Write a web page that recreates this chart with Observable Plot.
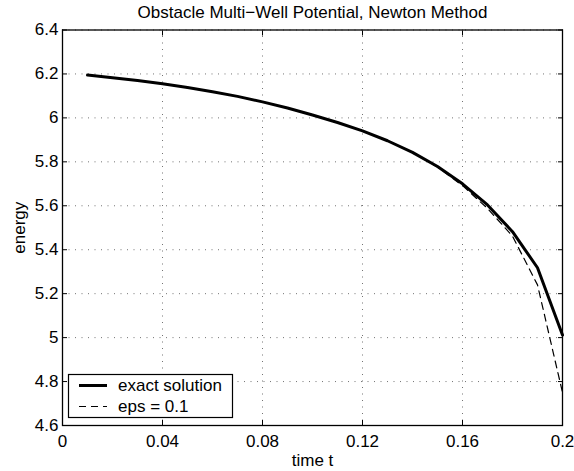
<!DOCTYPE html>
<html>
<head>
<meta charset="utf-8">
<script src="https://cdn.jsdelivr.net/npm/d3@7"></script>
<script src="https://cdn.jsdelivr.net/npm/@observablehq/plot@0.6"></script>
<style>
  html, body { margin: 0; padding: 0; background: #fff; }
</style>
</head>
<body>
<div id="chart"></div>
<script>
const times = [0.01,0.02,0.03,0.04,0.05,0.06,0.07,0.08,0.09,0.10,0.11,0.12,0.13,0.14,0.15,0.16,0.17,0.18,0.19,0.20];
const exactEnergy = [6.195,6.183,6.170,6.155,6.138,6.119,6.098,6.073,6.045,6.013,5.979,5.941,5.896,5.843,5.779,5.700,5.604,5.482,5.318,5.012];
const epsEnergy   = [6.195,6.183,6.170,6.155,6.138,6.119,6.098,6.073,6.045,6.013,5.979,5.941,5.896,5.843,5.776,5.692,5.588,5.462,5.240,4.750];
const xTicks = [0,0.04,0.08,0.12,0.16,0.2];
const xTickLabels = ["0","0.04","0.08","0.12","0.16","0.2"];
const yTicks = [4.6,4.8,5.0,5.2,5.4,5.6,5.8,6.0,6.2,6.4];
const yTickLabels = ["4.6","4.8","5","5.2","5.4","5.6","5.8","6","6.2","6.4"];
const seriesNames = ["exact solution","eps = 0.1"];
const titleText = "Obstacle Multi\u2212Well Potential, Newton Method";
const xLabel = "time t";
const yLabel = "energy";

const exactData = times.map((t,i) => ({t, e: exactEnergy[i]}));
const epsData = times.map((t,i) => ({t, e: epsEnergy[i]}));

const font = "'Liberation Sans', Arial, Helvetica, sans-serif";
const fs = 17;
const fx = v => xTickLabels[xTicks.findIndex(d => Math.abs(d - v) < 1e-9)];
const fy = v => yTickLabels[yTicks.findIndex(d => Math.abs(d - v) < 1e-9)];
const gridStyle = {stroke: "#000", strokeOpacity: 0.55, strokeDasharray: "1,5.5", strokeWidth: 1};

const chart = Plot.plot({
  width: 574,
  height: 471,
  marginLeft: 62,
  marginRight: 12,
  marginTop: 29.5,
  marginBottom: 46,
  style: {fontFamily: font, fontSize: fs + "px", background: "#fff", color: "#000", overflow: "visible"},
  x: {domain: [0, 0.2]},
  y: {domain: [4.6, 6.4]},
  marks: [
    Plot.gridX(xTicks, gridStyle),
    Plot.gridY(yTicks, gridStyle),
    Plot.line(epsData, {x: "t", y: "e", stroke: "#000", strokeWidth: 1.2, strokeDasharray: "7,5"}),
    Plot.line(exactData, {x: "t", y: "e", stroke: "#000", strokeWidth: 3, strokeLinejoin: "round"}),
    Plot.frame({stroke: "#000", strokeWidth: 1.3}),
    Plot.axisX(xTicks, {anchor: "bottom", tickSize: -5, tickPadding: 14, tickFormat: fx, label: null, fill: "#000", stroke: "#000"}),
    Plot.axisX(xTicks, {anchor: "top", tickSize: -5, tickFormat: () => "", label: null, stroke: "#000"}),
    Plot.axisY(yTicks, {anchor: "left", tickSize: -5, tickPadding: 9, tickFormat: fy, label: null, fill: "#000", stroke: "#000"}),
    Plot.axisY(yTicks, {anchor: "right", tickSize: -5, tickFormat: () => "", label: null, stroke: "#000"}),
    Plot.text([titleText], {text: d => d, frameAnchor: "top", textAnchor: "middle", lineAnchor: "middle", dy: -17.5, fill: "#000", fontSize: fs}),
    Plot.text([xLabel], {text: d => d, frameAnchor: "bottom", textAnchor: "middle", lineAnchor: "middle", dy: 35, fill: "#000", fontSize: fs}),
    Plot.text([yLabel], {text: d => d, frameAnchor: "left", textAnchor: "middle", lineAnchor: "middle", dx: -43, rotate: -90, fill: "#000", fontSize: fs})
  ]
});

// legend box
const svg = d3.select(chart);
const lg = svg.append("g").attr("font-family", font).attr("font-size", fs).attr("text-anchor", "start");
lg.append("rect").attr("x", 68.5).attr("y", 374.5).attr("width", 164).attr("height", 43)
  .attr("fill", "#fff").attr("stroke", "#000").attr("stroke-width", 1.2);
const rows = [{y: 385.5, dash: null, w: 3}, {y: 406.5, dash: "7,5", w: 1.2}];
rows.forEach((r, i) => {
  lg.append("line").attr("x1", 79).attr("x2", 107).attr("y1", r.y).attr("y2", r.y)
    .attr("stroke", "#000").attr("stroke-width", r.w).attr("stroke-dasharray", r.dash);
  lg.append("text").attr("x", 118).attr("y", r.y).attr("dy", "0.35em").attr("fill", "#000")
    .attr("text-anchor", "start").text(seriesNames[i]);
});

document.getElementById("chart").appendChild(chart);
</script>
</body>
</html>
